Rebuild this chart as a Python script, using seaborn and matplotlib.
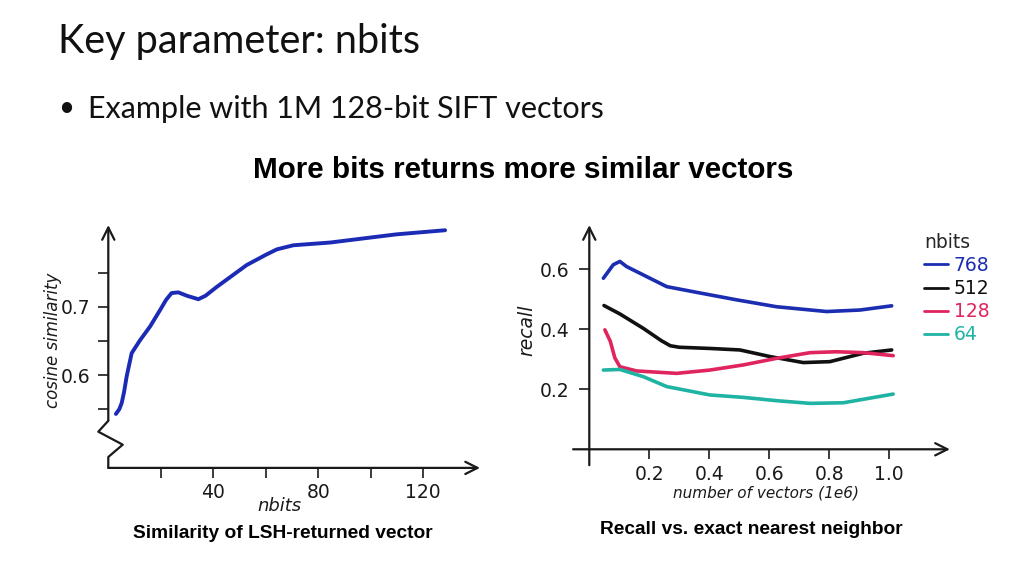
import numpy as np
import pandas as pd
import matplotlib
matplotlib.use("Agg")
import matplotlib.pyplot as plt
import seaborn as sns

# left chart: cosine similarity vs nbits
nbits_x = [2.9, 4.2, 5.1, 6.0, 7.0, 8.9, 12.1, 15.9, 19.7, 22.0, 24.1, 26.7, 30.0, 34.3, 37.0, 41.3, 52.7, 60.0, 64.2, 70.5, 84.5, 97.1, 109.8, 128.3]
cos_sim = [0.543, 0.550, 0.559, 0.575, 0.598, 0.632, 0.651, 0.671, 0.695, 0.710, 0.720, 0.721, 0.716, 0.711, 0.716, 0.729, 0.761, 0.776, 0.784, 0.790, 0.794, 0.800, 0.806, 0.812]

# right chart: recall vs number of vectors, per nbits
x_768 = [0.047, 0.080, 0.102, 0.124, 0.180, 0.258, 0.347, 0.491, 0.624, 0.791, 0.902, 1.008]
recall_768 = [0.570, 0.615, 0.626, 0.609, 0.581, 0.542, 0.525, 0.498, 0.475, 0.459, 0.464, 0.478]
x_512 = [0.049, 0.102, 0.180, 0.240, 0.270, 0.300, 0.402, 0.502, 0.602, 0.713, 0.802, 0.913, 1.008]
recall_512 = [0.479, 0.451, 0.403, 0.362, 0.345, 0.340, 0.336, 0.331, 0.309, 0.289, 0.292, 0.320, 0.331]
x_128 = [0.052, 0.070, 0.085, 0.102, 0.158, 0.291, 0.402, 0.513, 0.624, 0.736, 0.824, 0.913, 1.013]
recall_128 = [0.398, 0.360, 0.305, 0.275, 0.261, 0.253, 0.264, 0.281, 0.303, 0.322, 0.325, 0.322, 0.312]
x_64 = [0.047, 0.102, 0.180, 0.258, 0.402, 0.513, 0.624, 0.736, 0.847, 1.013]
recall_64 = [0.264, 0.266, 0.242, 0.209, 0.181, 0.173, 0.162, 0.153, 0.155, 0.184]

series_names = ["768", "512", "128", "64"]
series_colors = {"768": "#1b2db0", "512": "#111111", "128": "#e0245e", "64": "#1fb3a3"}

df = pd.concat([
    pd.DataFrame({"x": x_768, "recall": recall_768, "nbits": "768"}),
    pd.DataFrame({"x": x_512, "recall": recall_512, "nbits": "512"}),
    pd.DataFrame({"x": x_128, "recall": recall_128, "nbits": "128"}),
    pd.DataFrame({"x": x_64, "recall": recall_64, "nbits": "64"}),
])

sns.set_theme(style="white")
plt.rcParams["font.family"] = ["DejaVu Sans"]

fig = plt.figure(figsize=(10.24, 5.76), dpi=100)
fig.patch.set_facecolor("white")

axis_col = "#1a1a1a"
arrow = dict(arrowstyle="->", lw=1.6, color=axis_col, mutation_scale=22, shrinkA=0, shrinkB=0)

# ---------- left chart ----------
ax1 = fig.add_axes([90 / 1024, (576 - 475) / 576, 395 / 1024, 255 / 576])
sns.lineplot(x=nbits_x, y=cos_sim, ax=ax1, color="#1c2bb5", lw=2.8, solid_capstyle="round", solid_joinstyle="round")
ax1.set_xlim(-6.97, 143.5)
ax1.set_ylim(0.4536, 0.827)
y0 = 0.464
ax1.spines["left"].set_position(("data", 0))
ax1.spines["bottom"].set_position(("data", y0))
for s in ax1.spines.values():
    s.set_visible(False)
ax1.set_xticks([40, 80, 120])
ax1.set_xticks([20, 60, 100], minor=True)
ax1.set_yticks([0.6, 0.7])
ax1.set_yticklabels(["0.6", "0.7"])
ax1.set_yticks([0.55, 0.65, 0.75], minor=True)
ax1.tick_params(which="both", direction="out", length=7, width=1.2, color=axis_col,
                labelsize=13.5, labelcolor=axis_col, left=True, bottom=True)
ax1.tick_params(axis="x", pad=4)
ax1.tick_params(axis="y", pad=6)
ax1.annotate("", xy=(141.6, y0), xytext=(0, y0), arrowprops=arrow, annotation_clip=False)
ax1.plot([0, 0, 5.5, -3.8, 0], [y0, 0.480, 0.498, 0.517, 0.533], color=axis_col, lw=1.6, clip_on=False)
ax1.annotate("", xy=(0, 0.8196), xytext=(0, 0.533), arrowprops=arrow, annotation_clip=False)
ax1.set_xlabel("")
ax1.set_ylabel("")
ax1.text(-0.094, 0.53, "cosine similarity", transform=ax1.transAxes, rotation=90,
         ha="center", va="center", fontsize=12, style="italic", color=axis_col)
ax1.text(0.48, -0.122, "nbits", transform=ax1.transAxes, ha="center", va="center",
         fontsize=13, style="italic", color=axis_col)

# ---------- right chart ----------
ax2 = fig.add_axes([570 / 1024, (576 - 470) / 576, 385 / 1024, 250 / 576])
sns.lineplot(data=df, x="x", y="recall", hue="nbits", hue_order=series_names, palette=series_colors,
             ax=ax2, lw=2.6, sort=False, estimator=None)
ax2.set_xlim(-0.0643, 1.219)
ax2.set_ylim(-0.069, 0.764)
ax2.spines["left"].set_position(("data", 0))
ax2.spines["bottom"].set_position(("data", 0))
for s in ax2.spines.values():
    s.set_visible(False)
ax2.set_xticks([0.2, 0.4, 0.6, 0.8, 1.0])
ax2.set_xticklabels(["0.2", "0.4", "0.6", "0.8", "1.0"])
ax2.set_yticks([0.2, 0.4, 0.6])
ax2.set_yticklabels(["0.2", "0.4", "0.6"])
ax2.tick_params(direction="out", length=7, width=1.2, color=axis_col, labelsize=13.5,
                labelcolor=axis_col, left=True, bottom=True)
ax2.tick_params(axis="x", pad=4)
ax2.tick_params(axis="y", pad=7)
ax2.annotate("", xy=(1.202, 0), xytext=(-0.054, 0), arrowprops=arrow, annotation_clip=False)
ax2.annotate("", xy=(0, 0.747), xytext=(0, -0.053), arrowprops=arrow, annotation_clip=False)
ax2.set_xlabel("")
ax2.set_ylabel("")
ax2.text(-0.112, 0.56, "recall", transform=ax2.transAxes, rotation=90, ha="center", va="center",
         fontsize=13.5, style="italic", color=axis_col)
ax2.text(0.509, -0.092, "number of vectors (1e6)", transform=ax2.transAxes, ha="center", va="center",
         fontsize=11, style="italic", color=axis_col)
leg = ax2.legend(title="nbits", loc="upper left", bbox_to_anchor=(907 / 1024, (576 - 216) / 576),
                 bbox_transform=fig.transFigure, frameon=False, handlelength=1.3, handletextpad=0.3,
                 labelspacing=0.22, fontsize=13.5, title_fontsize=13.5, labelcolor="linecolor",
                 alignment="left")
for h in leg.get_lines():
    h.set_linewidth(2.0)

# ---------- slide text ----------
fig.text(58 / 1024, 1 - 41 / 576, "Key parameter: nbits", family=["Lato", "DejaVu Sans"],
         fontsize=28.5, va="center", ha="left", color="#111111")
fig.text(58 / 1024, 1 - 108 / 576, "\u2022", family=["Lato", "DejaVu Sans"], fontsize=20,
         va="center", ha="left", color="#111111")
fig.text(88 / 1024, 1 - 109 / 576, "Example with 1M 128-bit SIFT vectors", family=["Lato", "DejaVu Sans"],
         fontsize=22, va="center", ha="left", color="#111111")
fig.text(523 / 1024, 1 - 170 / 576, "More bits returns more similar vectors",
         family=["Liberation Sans", "DejaVu Sans"], weight="bold", fontsize=21.3,
         va="center", ha="center", color="#000000")
fig.text(283 / 1024, 1 - 534 / 576, "Similarity of LSH-returned vector",
         family=["Liberation Sans", "DejaVu Sans"], weight="bold", fontsize=13.8,
         va="center", ha="center", color="#000000")
fig.text(751 / 1024, 1 - 530 / 576, "Recall vs. exact nearest neighbor",
         family=["Liberation Sans", "DejaVu Sans"], weight="bold", fontsize=13.8,
         va="center", ha="center", color="#000000")

fig.savefig("out.png", dpi=100, facecolor="white")
